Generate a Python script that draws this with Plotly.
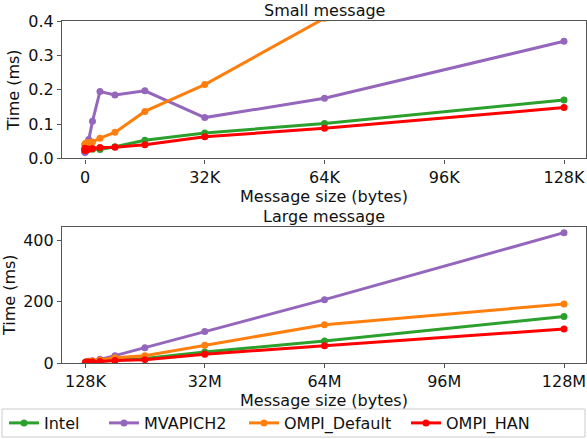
import plotly.graph_objects as go
from plotly.subplots import make_subplots

# Message sizes in bytes
small_sizes = [4, 8, 16, 32, 64, 128, 256, 512, 1024, 2048, 4096, 8192,
               16384, 32768, 65536, 131072]
large_sizes = [131072, 262144, 524288, 1048576, 2097152, 4194304, 8388608,
               16777216, 33554432, 67108864, 134217728]

# Times in ms, small messages
small_intel = [0.020, 0.020, 0.021, 0.021, 0.022, 0.023, 0.024, 0.026, 0.028,
               0.027, 0.026, 0.034, 0.053, 0.074, 0.102, 0.170]
small_mvapich = [0.018, 0.018, 0.019, 0.020, 0.021, 0.022, 0.024, 0.028, 0.055,
                 0.108, 0.195, 0.185, 0.197, 0.119, 0.175, 0.341]
small_ompi_default = [0.040, 0.040, 0.041, 0.041, 0.042, 0.043, 0.044, 0.045,
                      0.046, 0.048, 0.059, 0.076, 0.137, 0.215, 0.408, 0.820]
small_ompi_han = [0.030, 0.028, 0.026, 0.025, 0.024, 0.024, 0.025, 0.026,
                  0.027, 0.029, 0.032, 0.033, 0.040, 0.063, 0.088, 0.148]

# Times in ms, large messages
large_intel = [1.5, 1.9, 2.5, 3.2, 4.0, 6.0, 9.0, 15.0, 36.0, 72.0, 152.0]
large_mvapich = [2.5, 3.5, 4.5, 5.5, 7.0, 12.0, 24.0, 50.0, 103.0, 207.0, 426.0]
large_ompi_default = [2.5, 3.0, 4.0, 5.0, 6.5, 10.0, 17.0, 24.0, 58.0, 125.0, 193.0]
large_ompi_han = [1.5, 1.8, 2.3, 3.0, 3.5, 5.0, 8.0, 11.0, 29.0, 56.0, 111.0]

series_names = ["Intel", "MVAPICH2", "OMPI_Default", "OMPI_HAN"]
colors = ["#2ca02c", "#9467bd", "#ff7f0e", "#ff0000"]
legend_ids = ["legend", "legend2", "legend3", "legend4"]
legend_left_px = [4, 104, 244, 406]

small_ticks = [0, 32768, 65536, 98304, 131072]
small_tick_text = ["0", "32K", "64K", "96K", "128K"]
large_ticks = [131072, 33554432, 67108864, 100663296, 134217728]
large_tick_text = ["128K", "32M", "64M", "96M", "128M"]

FONT = "DejaVu Sans"
FS = 16
AXCOL = "#555555"
TXT = "#111111"

ML, MR, MT, MB = 62, 1, 21, 76
W, H = 587, 439
PW = W - ML - MR
PH = H - MT - MB

fig = make_subplots(rows=2, cols=1)

small_data = [small_intel, small_mvapich, small_ompi_default, small_ompi_han]
large_data = [large_intel, large_mvapich, large_ompi_default, large_ompi_han]

for name, col, ys, lg in zip(series_names, colors, small_data, legend_ids):
    fig.add_trace(go.Scatter(x=small_sizes, y=ys, name=name, mode="lines+markers",
                             line=dict(color=col, width=3),
                             marker=dict(color=col, size=7),
                             legend=lg, legendgroup=name, showlegend=True),
                  row=1, col=1)
for name, col, ys in zip(series_names, colors, large_data):
    fig.add_trace(go.Scatter(x=large_sizes, y=ys, name=name, mode="lines+markers",
                             line=dict(color=col, width=3),
                             marker=dict(color=col, size=7),
                             legendgroup=name, showlegend=False), row=2, col=1)

axis_common = dict(showline=True, linecolor=AXCOL, linewidth=1.2, mirror=True,
                   ticks="outside", ticklen=4, tickcolor=AXCOL, showgrid=False,
                   zeroline=False, tickfont=dict(family=FONT, size=FS, color=TXT))

fig.update_xaxes(**axis_common)
fig.update_yaxes(**axis_common)

title_font = dict(family=FONT, size=FS, color=TXT)
fig.update_layout(
    xaxis=dict(domain=[0, 1], range=[-6294, 137093], tickvals=small_ticks,
               ticktext=small_tick_text,
               title=dict(text="Message size (bytes)", standoff=1, font=title_font)),
    yaxis=dict(domain=[0.598, 1.0], range=[0, 0.4],
               tickvals=[0, 0.1, 0.2, 0.3, 0.4],
               ticktext=["0.0", "0.1", "0.2", "0.3", "0.4"],
               title=dict(text="Time (ms)", standoff=4, font=title_font)),
    xaxis2=dict(domain=[0, 1], range=[-6294 * 1024, 137093 * 1024],
                tickvals=large_ticks, ticktext=large_tick_text,
                title=dict(text="Message size (bytes)", standoff=1, font=title_font)),
    yaxis2=dict(domain=[0.0, 0.399], range=[0, 446], tickvals=[0, 200, 400],
                title=dict(text="Time (ms)", standoff=4, font=title_font)),
)

fig.add_annotation(text="Small message", xref="paper", yref="paper", x=0.5, y=1.0,
                   yanchor="bottom", xanchor="center", showarrow=False, yshift=-1,
                   font=title_font)
fig.add_annotation(text="Large message", xref="paper", yref="paper", x=0.5, y=0.399,
                   yanchor="bottom", xanchor="center", showarrow=False, yshift=-1,
                   font=title_font)

# legend frame
fig.add_shape(type="rect", xref="paper", yref="paper",
              x0=(2 - ML) / PW, x1=(585 - ML) / PW,
              y0=(H - MB - 437) / PH, y1=(H - MB - 409) / PH,
              line=dict(color="#cccccc", width=1), fillcolor="white", layer="below")

legend_cfg = {}
for lg, px in zip(legend_ids, legend_left_px):
    legend_cfg[lg] = dict(orientation="h", x=(px - ML) / PW, xanchor="left",
                          y=(H - MB - 423) / PH, yanchor="middle",
                          bgcolor="rgba(0,0,0,0)", borderwidth=0,
                          font=dict(family=FONT, size=FS, color=TXT), itemwidth=30)

fig.update_layout(
    width=W, height=H,
    margin=dict(l=ML, r=MR, t=MT, b=MB, autoexpand=False),
    paper_bgcolor="white", plot_bgcolor="white",
    font=dict(family=FONT, size=FS, color=TXT),
    showlegend=True,
    **legend_cfg,
)

fig.write_html("out.html")
